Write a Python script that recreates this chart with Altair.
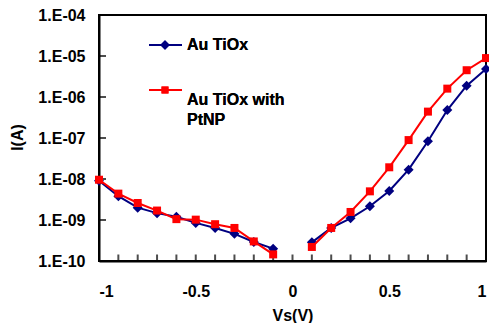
import altair as alt
import pandas as pd

# ---- data ----
voltages = [-1.0, -0.9, -0.8, -0.7, -0.6, -0.5, -0.4, -0.3, -0.2, -0.1,
            0.1, 0.2, 0.3, 0.4, 0.5, 0.6, 0.7, 0.8, 0.9, 1.0]
au_tiox = [9.1e-9, 3.8e-9, 2.0e-9, 1.47e-9, 1.2e-9, 8.5e-10, 6.4e-10, 4.6e-10, 2.9e-10, 2.0e-10,
           2.85e-10, 6.4e-10, 1.1e-9, 2.16e-9, 5.1e-9, 1.69e-8, 8.3e-8, 4.8e-7, 1.89e-6, 4.8e-6]
au_tiox_pt = [9.6e-9, 4.4e-9, 2.6e-9, 1.7e-9, 1.05e-9, 1.02e-9, 7.9e-10, 6.4e-10, 3.0e-10, 1.45e-10,
              2.2e-10, 6.4e-10, 1.57e-9, 5.0e-9, 1.93e-8, 8.9e-8, 4.4e-7, 1.6e-6, 4.5e-6, 8.9e-6]
series_names = ["Au TiOx", "Au TiOx with PtNP"]
x_label_values = [-1, -0.5, 0, 0.5, 1]
x_tick_values = [round(-1 + 0.1 * i, 1) for i in range(21)]
y_tick_values = [1e-10, 1e-9, 1e-8, 1e-7, 1e-6, 1e-5, 1e-4]

rows = []
for name, vals in zip(series_names, [au_tiox, au_tiox_pt]):
    for v, i in zip(voltages, vals):
        rows.append({"series": name, "V": v, "I": i, "branch": "neg" if v < 0 else "pos"})
df = pd.DataFrame(rows)

FONT = "Liberation Sans"
FS = 16
BLUE = "#000080"
RED = "#FF0000"
W = 387
H = 246

xscale = alt.Scale(domain=[-1, 1], nice=False, zero=False)
yscale = alt.Scale(type="log", domain=[1e-10, 1e-4], nice=False)

x_axis = alt.Axis(values=x_label_values, labelExpr="toString(datum.value)", grid=False,
                  ticks=False, tickSize=0, labelPadding=22, domainColor="black", domainWidth=2,
                  labelFont=FONT, labelFontSize=FS, labelFontWeight="bold", labelColor="black",
                  title="Vs(V)", titleFont=FONT, titleFontSize=FS, titleFontWeight="bold",
                  titleColor="black", titleY=59, titleBaseline="alphabetic")
y_axis = alt.Axis(values=y_tick_values,
                  labelExpr="'1.E-' + (round(-log(datum.value)/LN10) < 10 ? '0' : '') + round(-log(datum.value)/LN10)",
                  grid=False, ticks=False, tickSize=0, labelPadding=14, domainColor="black",
                  domainWidth=2, labelFont=FONT, labelFontSize=FS, labelFontWeight="bold",
                  labelColor="black", title="I(A)", titleFont=FONT, titleFontSize=FS,
                  titleFontWeight="bold", titleColor="black", titleX=-82, titleY=122,
                  titleAngle=-90, titleAlign="center", titleBaseline="middle")

base = alt.Chart(df)

axes_layer = base.mark_point(opacity=0).encode(
    x=alt.X("V:Q", scale=xscale, axis=x_axis),
    y=alt.Y("I:Q", scale=yscale, axis=y_axis),
)

def series_layers(name, color, shape, size):
    d = base.transform_filter(alt.datum.series == name)
    line = d.mark_line(color=color, strokeWidth=2).encode(
        x=alt.X("V:Q", scale=xscale), y=alt.Y("I:Q", scale=yscale), detail="branch:N")
    pts = d.mark_point(color=color, fill=color, filled=True, opacity=1, shape=shape, size=size).encode(
        x=alt.X("V:Q", scale=xscale), y=alt.Y("I:Q", scale=yscale))
    return [line, pts]

xticks = alt.Chart(pd.DataFrame({"t": x_tick_values})).mark_tick(
    color="black", thickness=2, size=7, orient="vertical").encode(
    x=alt.X("t:Q", scale=xscale), y=alt.value(H - 3))
yticks = alt.Chart(pd.DataFrame({"t": y_tick_values})).mark_tick(
    color="black", thickness=2, size=7, orient="horizontal").encode(
    y=alt.Y("t:Q", scale=yscale), x=alt.value(3.5))

# legend (manual, inside the plot)
leg = alt.Chart(pd.DataFrame({"series": series_names}))
leg_blue_line = leg.mark_rule(color=BLUE, strokeWidth=2).encode(
    x=alt.value(50), x2=alt.value(83), y=alt.value(30))
leg_blue_pt = leg.mark_point(shape="diamond", size=90, filled=True, color=BLUE, opacity=1).encode(
    x=alt.value(66), y=alt.value(30))
leg_blue_txt = leg.mark_text(align="left", baseline="middle", font=FONT, fontSize=FS,
                             fontWeight="bold", color="black").encode(
    x=alt.value(88), y=alt.value(30), text=alt.value(series_names[0]))
leg_red_line = leg.mark_rule(color=RED, strokeWidth=2).encode(
    x=alt.value(50), x2=alt.value(83), y=alt.value(75))
leg_red_pt = leg.mark_point(shape="square", size=49, filled=True, color=RED, opacity=1).encode(
    x=alt.value(66), y=alt.value(75))
leg_red_txt = leg.mark_text(align="left", baseline="middle", font=FONT, fontSize=FS,
                            fontWeight="bold", color="black", lineBreak="\n", lineHeight=20).encode(
    x=alt.value(88), y=alt.value(85), text=alt.value("Au TiOx with\nPtNP"))

layers = [axes_layer, xticks, yticks] + series_layers(series_names[0], BLUE, "diamond", 100) \
    + series_layers(series_names[1], RED, "square", 64) \
    + [leg_blue_line, leg_blue_pt, leg_blue_txt, leg_red_line, leg_red_pt, leg_red_txt]

chart = alt.layer(*layers).properties(
    width=W, height=H,
    autosize=alt.AutoSizeParams(type="none"),
    padding={"left": 91, "top": 7, "right": 3, "bottom": 62},
    background="white",
).configure_view(stroke="black", strokeWidth=2)

chart.save("out.html", embed_options={"renderer": "svg", "actions": False})
